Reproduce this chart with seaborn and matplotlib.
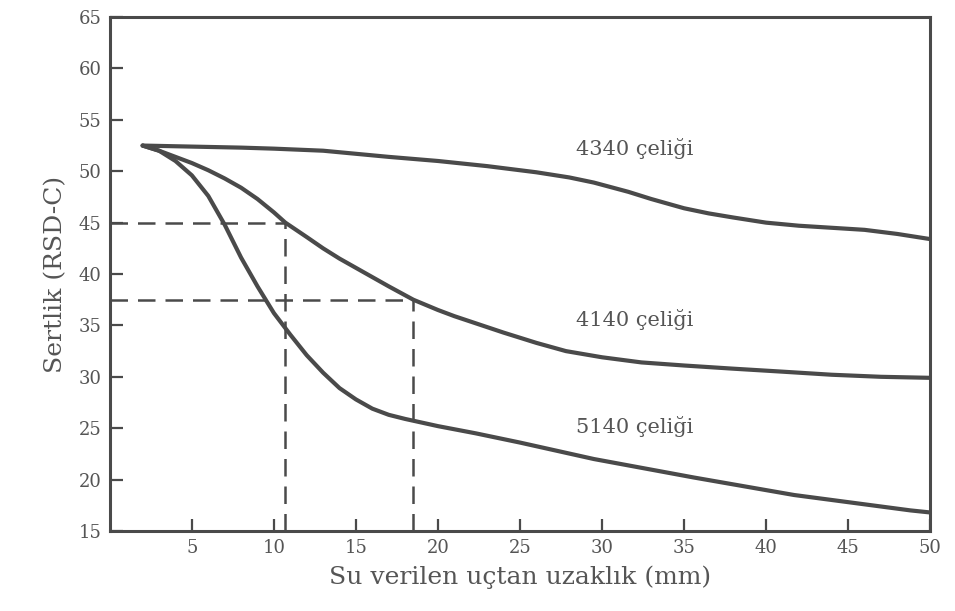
import numpy as np
import pandas as pd
import matplotlib
matplotlib.use("Agg")
import matplotlib.pyplot as plt
import seaborn as sns

# Jominy hardenability curves: hardness vs. distance from the quenched end
x_4340 = [2, 5, 8, 10, 13, 15, 17, 20, 23, 26, 28, 29.5, 31.6, 33, 35, 36.5, 38, 40, 42, 44, 46, 48, 50]
y_4340 = [52.5, 52.4, 52.3, 52.2, 52.0, 51.7, 51.4, 51.0, 50.5, 49.9, 49.4, 48.9, 48.0, 47.3, 46.4,
          45.9, 45.5, 45.0, 44.7, 44.5, 44.3, 43.9, 43.4]

x_4140 = [2, 3, 4, 5, 6, 7, 8, 9, 10, 10.7, 12, 13, 14, 15, 16, 17, 18.5, 20, 21, 22.5, 24, 25, 26,
          27.8, 30, 32.4, 35, 37.9, 41, 44, 47, 50]
y_4140 = [52.5, 52.0, 51.4, 50.8, 50.1, 49.3, 48.4, 47.3, 46.0, 45.0, 43.6, 42.5, 41.5, 40.6, 39.7,
          38.8, 37.5, 36.5, 35.9, 35.1, 34.3, 33.8, 33.3, 32.5, 31.9, 31.4, 31.1, 30.8, 30.5, 30.2,
          30.0, 29.9]

x_5140 = [2, 3, 4, 5, 6, 7, 8, 9, 10, 11, 12, 13, 14, 15, 16, 17, 18, 20, 22.3, 25, 29.5, 35.6,
          41.7, 48.8, 50]
y_5140 = [52.5, 52.0, 51.0, 49.6, 47.6, 44.8, 41.6, 38.8, 36.2, 34.1, 32.1, 30.4, 28.9, 27.8, 26.9,
          26.3, 25.9, 25.2, 24.5, 23.6, 22.0, 20.2, 18.5, 17.0, 16.8]

steel_names = ["4340 çeliği", "4140 çeliği", "5140 çeliği"]
label_x = [32, 32, 32]
label_y = [52.2, 35.6, 25.2]

read_x = [10.7, 18.5]
read_y = [45.0, 37.5]

x_ticks = [5, 10, 15, 20, 25, 30, 35, 40, 45, 50]
y_ticks = [15, 20, 25, 30, 35, 40, 45, 50, 55, 60, 65]

df = pd.concat([
    pd.DataFrame({"mesafe": x_4340, "sertlik": y_4340, "celik": steel_names[0]}),
    pd.DataFrame({"mesafe": x_4140, "sertlik": y_4140, "celik": steel_names[1]}),
    pd.DataFrame({"mesafe": x_5140, "sertlik": y_5140, "celik": steel_names[2]}),
])

sns.set_style("ticks")
plt.rcParams["font.family"] = ["DejaVu Serif"]

ink = "#4a4a4a"
text_col = "#555555"

fig = plt.figure(figsize=(9.55, 6.11), dpi=100, facecolor="white")
ax = fig.add_axes([0.115, 0.131, 0.859, 0.841])

sns.lineplot(data=df, x="mesafe", y="sertlik", hue="celik", units="celik",
             estimator=None, sort=False,
             palette=[ink, ink, ink], linewidth=3.0, legend=False, ax=ax,
             solid_joinstyle="round", solid_capstyle="round")

dash = dict(color=ink, linewidth=1.8, linestyle=(0, (7, 4)))
for rx, ry in zip(read_x, read_y):
    ax.plot([0, rx], [ry, ry], **dash)
    ax.plot([rx, rx], [15, ry], **dash)

for name, lx, ly in zip(steel_names, label_x, label_y):
    ax.text(lx, ly, name, ha="center", va="center", fontsize=15, color=text_col)

ax.set_xlim(0, 50)
ax.set_ylim(15, 65)
ax.set_xticks(x_ticks)
ax.set_yticks(y_ticks)
ax.tick_params(direction="in", length=9, width=1.6, color=ink,
               labelsize=13, labelcolor=text_col, pad=6)

for side in ["left", "right", "top", "bottom"]:
    ax.spines[side].set_visible(True)
    ax.spines[side].set_color(ink)
    ax.spines[side].set_linewidth(2.2)

ax.set_xlabel("Su verilen uçtan uzaklık (mm)", fontsize=18, color=text_col, labelpad=6)
ax.set_ylabel("Sertlik (RSD-C)", fontsize=18, color=text_col, labelpad=8)

fig.savefig("out.png", dpi=100, facecolor="white")
